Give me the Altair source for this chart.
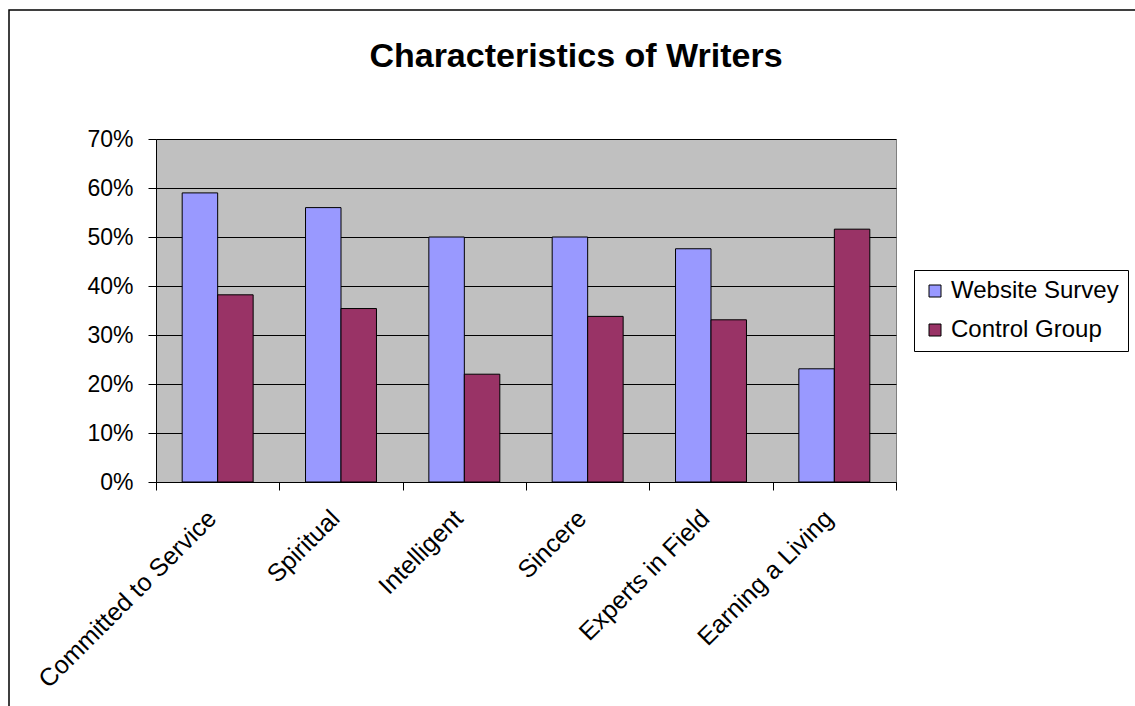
import altair as alt
import pandas as pd

# Survey characteristics and the share of respondents for each group
categories = [
    "Committed to Service",
    "Spiritual",
    "Intelligent",
    "Sincere",
    "Experts in Field",
    "Earning a Living",
]
series_names = ["Website Survey", "Control Group"]
website_survey = [0.59, 0.56, 0.50, 0.50, 0.476, 0.231]
control_group = [0.382, 0.354, 0.22, 0.338, 0.331, 0.516]
series_colors = ["#9999FF", "#993366"]
y_ticks = [0, 0.1, 0.2, 0.3, 0.4, 0.5, 0.6, 0.7]
chart_title = "Characteristics of Writers"

rows = []
for cat, w, c in zip(categories, website_survey, control_group):
    rows.append({"characteristic": cat, "series": series_names[0], "share": w})
    rows.append({"characteristic": cat, "series": series_names[1], "share": c})
df = pd.DataFrame(rows)

FONT = "Liberation Sans"

bars = (
    alt.Chart(df)
    .mark_bar(stroke="black", strokeWidth=1)
    .encode(
        x=alt.X(
            "characteristic:N",
            sort=categories,
            title=None,
            scale=alt.Scale(paddingInner=0, paddingOuter=0),
            axis=alt.Axis(
                labelAngle=-45,
                labelAlign="right",
                labelBaseline="middle",
                labelFontSize=25,
                labelFont=FONT,
                labelColor="black",
                labelPadding=24,
                labelOffset=-6,
                labelLimit=400,
                tickBand="extent",
                tickSize=8,
                tickColor="black",
                domainColor="black",
                grid=False,
            ),
        ),
        xOffset=alt.XOffset(
            "series:N",
            sort=series_names,
            scale=alt.Scale(paddingInner=0, paddingOuter=0.738),
        ),
        y=alt.Y(
            "share:Q",
            title=None,
            scale=alt.Scale(domain=[0, 0.7], nice=False),
            axis=alt.Axis(
                values=y_ticks,
                format=".0%",
                labelFontSize=23,
                labelFont=FONT,
                labelColor="black",
                labelPadding=15,
                tickSize=8,
                tickColor="black",
                domainColor="black",
                gridColor="black",
                gridWidth=1,
                gridOpacity=1,
            ),
        ),
        color=alt.Color(
            "series:N",
            sort=series_names,
            scale=alt.Scale(domain=series_names, range=series_colors),
            legend=alt.Legend(
                title=None,
                orient="none",
                legendX=758,
                legendY=131,
                symbolType="square",
                symbolSize=144,
                symbolStrokeColor="black",
                symbolStrokeWidth=1,
                symbolOpacity=1,
                labelFontSize=24,
                labelFont=FONT,
                labelColor="black",
                labelLimit=400,
                rowPadding=15,
                padding=9,
                strokeColor="black",
                fillColor="white",
            ),
        ),
    )
)

# Outer chart-area frame
frame = (
    alt.Chart(alt.Data(values=[{}]))
    .mark_rect(fill=None, stroke="black", strokeWidth=1.5)
    .encode(
        x=alt.value(-147),
        x2=alt.value(990),
        y=alt.value(-129),
        y2=alt.value(580),
    )
)

# Chart heading, set above the plot area
heading = (
    alt.Chart(alt.Data(values=[{"label": chart_title}]))
    .mark_text(
        font=FONT,
        fontSize=34,
        fontWeight="bold",
        color="black",
        align="center",
        baseline="alphabetic",
    )
    .encode(x=alt.value(420), y=alt.value(-72), text="label:N")
)

chart = (
    alt.layer(frame, bars, heading)
    .properties(
        width=740,
        height=343,
        autosize=alt.AutoSizeParams(type="none"),
        padding={"left": 156, "top": 139, "right": 239, "bottom": 224},
        background="white",
    )
    .configure_view(fill="#C0C0C0", stroke="#808080", strokeWidth=1)
)

chart.save("out.html", embed_options={"renderer": "svg", "actions": False})
